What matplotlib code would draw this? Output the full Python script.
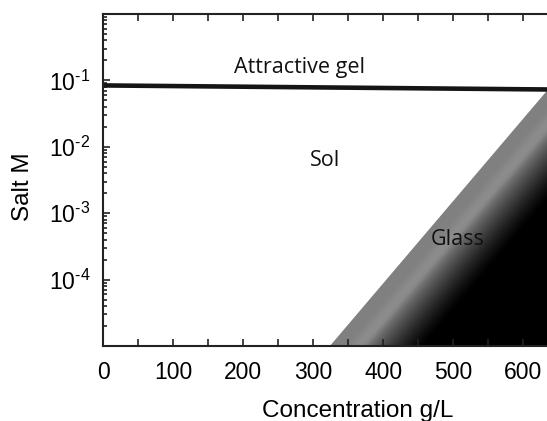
import matplotlib
matplotlib.use('Agg')
import matplotlib.pyplot as plt
import numpy as np
from matplotlib.patches import Polygon
from matplotlib.ticker import FuncFormatter, LogLocator, MultipleLocator

# boundaries
gel_x = [0, 634]
gel_y = [0.084, 0.073]
glass_x = [324, 634]
glass_y = [1e-5, 0.07]

labels = ['Attractive gel', 'Sol', 'Glass']
label_x = [281, 317, 507]
label_y = [0.155, 0.0063, 4.0e-4]

xmin, xmax = 0, 634
ymin, ymax = 1e-5, 1.0

plt.rcParams['font.family'] = ['Liberation Sans', 'DejaVu Sans']

fig = plt.figure(figsize=(5.47, 4.21), dpi=100)
ax = fig.add_axes([103 / 547, 75 / 421, 444 / 547, 332 / 421])
ax.set_xlim(xmin, xmax)
ax.set_yscale('log')
ax.set_ylim(ymin, ymax)

# glass region with a grey-to-black gradient away from its edge
fig.canvas.draw()
p0, p1 = ax.transData.transform(list(zip(glass_x, glass_y)))
bb = ax.bbox
nx, ny = 600, 450
gx, gy = np.meshgrid(np.linspace(bb.x0, bb.x1, nx), np.linspace(bb.y0, bb.y1, ny))
ex, ey = p1 - p0
norm = np.hypot(ex, ey)
d = ((gx - p0[0]) * ey - (gy - p0[1]) * ex) / norm
t = np.clip((d - 26) / 46, 0, 1)
shade = 0.5 * (1 - t) ** 1.3 + 0.05 * np.exp(-((d - 22) / 7) ** 2)
img = ax.imshow(shade, cmap='gray', vmin=0, vmax=1, origin='lower',
                extent=[0, 1, 0, 1], transform=ax.transAxes, aspect='auto',
                interpolation='bilinear', zorder=1)
poly = Polygon([(glass_x[0], glass_y[0]), (glass_x[1], glass_y[1]), (xmax, ymin)],
               closed=True, transform=ax.transData, facecolor='none', edgecolor='none')
ax.add_patch(poly)
img.set_clip_path(poly)

ax.plot(gel_x, gel_y, color='#151515', lw=3.3, zorder=3, solid_capstyle='butt')

for t, x, y in zip(labels, label_x, label_y):
    ax.text(x, y, t, ha='center', va='center', fontsize=15.5,
            family=['Open Sans', 'DejaVu Sans'], color='#111111', zorder=4)

ax.xaxis.set_major_locator(MultipleLocator(100))
ax.xaxis.set_minor_locator(MultipleLocator(50))
ax.yaxis.set_major_locator(LogLocator(base=10, numticks=10))
ax.yaxis.set_minor_locator(LogLocator(base=10, subs=np.arange(2, 10), numticks=10))


def fmt(v, pos):
    e = int(round(np.log10(v)))
    if e in (-4, -3, -2, -1):
        return '$\\mathregular{10^{\u2010%d}}$' % abs(e)
    return ''


ax.yaxis.set_major_formatter(FuncFormatter(fmt))
ax.tick_params(which='both', direction='in', top=True, right=False,
               labelsize=16.5, width=1.2, color='#222222')
ax.tick_params(axis='x', pad=11)
ax.tick_params(axis='y', pad=9)
ax.tick_params(which='major', length=5)
ax.tick_params(which='minor', length=3)
ax.tick_params(axis='x', which='minor', length=5)

for s in ['left', 'bottom', 'top']:
    ax.spines[s].set_linewidth(1.5)
    ax.spines[s].set_color('#222222')
    ax.spines[s].set_zorder(5)
ax.spines['right'].set_visible(False)

ax.set_xlabel('Concentration g/L', fontsize=17.5)
ax.set_ylabel('Salt M', fontsize=17.5)
ax.xaxis.set_label_coords(0.574, -0.163)
ax.yaxis.set_label_coords(-0.155, 0.48)

fig.savefig('out.png', dpi=100)
